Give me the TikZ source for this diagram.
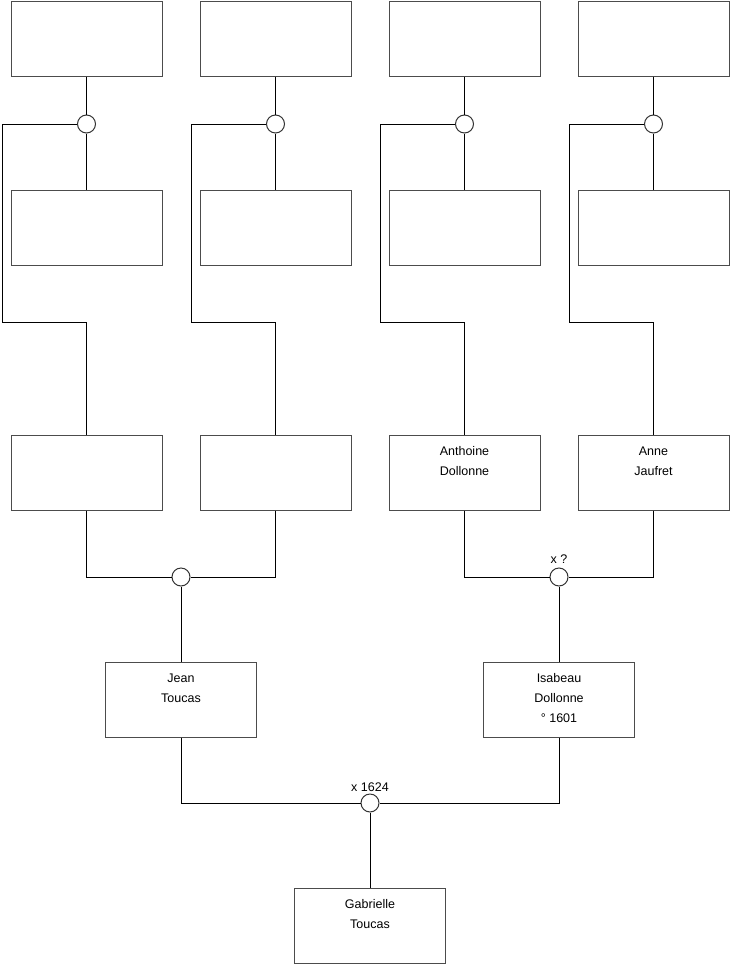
\documentclass[tikz,border=0pt]{standalone}
\usepackage{fontspec}
\setmainfont{Liberation Sans}
\usepackage{tikz}

\begin{document}
\begin{tikzpicture}[
  x=1pt, y=-1pt,
  line width=1pt,
  every node/.style={font=\fontsize{12.5}{20}\selectfont},
  person/.style={draw=black!70, fill=white, minimum width=151pt, minimum height=75pt, inner sep=0pt},
  persontext/.style={anchor=north, align=center, inner sep=0pt, yshift=-11.5pt, execute at begin node=\strut},
  union/.style={draw=black!80, fill=white, circle, minimum size=18pt, inner sep=0pt},
  link/.style={draw=black}
]
\useasboundingbox (0,0) rectangle (740,975);

% grands-parents (haut)
\node[person] (gp1) at (86.5,38.5) {};
\node[person] (gp2) at (275.5,38.5) {};
\node[person] (gp3) at (464.5,38.5) {};
\node[person] (gp4) at (653.5,38.5) {};

\node[person] (ga1) at (86.5,227.5) {};
\node[person] (ga2) at (275.5,227.5) {};
\node[person] (ga3) at (464.5,227.5) {};
\node[person] (ga4) at (653.5,227.5) {};

\node[union] (u1) at (86.5,124) {};
\node[union] (u2) at (275.5,124) {};
\node[union] (u3) at (464.5,124) {};
\node[union] (u4) at (653.5,124) {};

% parents
\node[person] (p1) at (86.5,472.5) {};
\node[person] (p2) at (275.5,472.5) {};
\node[person] (p3) at (464.5,472.5) {};
\node[persontext] at (p3.north) {Anthoine\\Dollonne};
\node[person] (p4) at (653.5,472.5) {};
\node[persontext] at (p4.north) {Anne\\Jaufret};

\node[union] (u5) at (181,577) {};
\node[union, label={[inner sep=1pt, yshift=3pt]above:x ?}] (u6) at (559,577) {};

\node[person] (jean) at (181,699.5) {};
\node[persontext] at (jean.north) {Jean\\Toucas};
\node[person] (isabeau) at (559,699.5) {};
\node[persontext] at (isabeau.north) {Isabeau\\Dollonne\\° 1601};

\node[union, label={[inner sep=1pt]above:x 1624}] (u7) at (370,803) {};

\node[person] (gabrielle) at (370,925.5) {};
\node[persontext] at (gabrielle.north) {Gabrielle\\Toucas};

\coordinate (k1) at (2,322);
\coordinate (k2) at (191,322);
\coordinate (k3) at (380,322);
\coordinate (k4) at (569,322);

\foreach \i in {1,...,4} {
  \draw[link] (gp\i.south) -- (u\i.north);
  \draw[link] (u\i.south) -- (ga\i.north);
  \draw[link] (u\i.west) -| (k\i) -| (p\i.north);
}

\draw[link] (p1.south) |- (u5.west);
\draw[link] (p2.south) |- (u5.east);
\draw[link] (u5.south) -- (jean.north);
\draw[link] (p3.south) |- (u6.west);
\draw[link] (p4.south) |- (u6.east);
\draw[link] (u6.south) -- (isabeau.north);
\draw[link] (jean.south) |- (u7.west);
\draw[link] (isabeau.south) |- (u7.east);
\draw[link] (u7.south) -- (gabrielle.north);
\end{tikzpicture}
\end{document}
